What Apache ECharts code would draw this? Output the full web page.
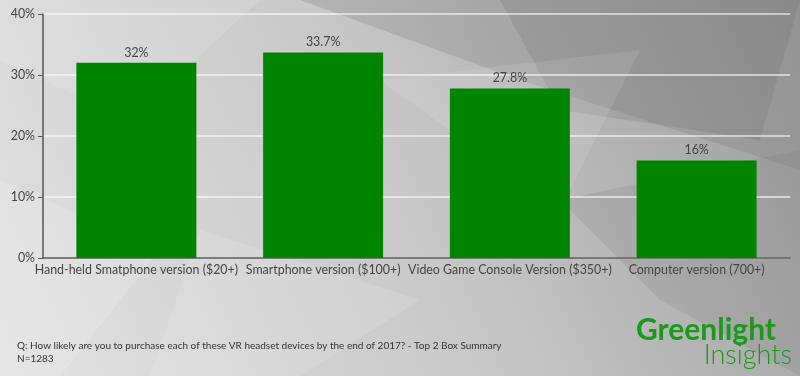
<!DOCTYPE html>
<html>
<head>
<meta charset="utf-8">
<script src="https://cdn.jsdelivr.net/npm/echarts@6/dist/echarts.min.js"></script>
<style>
  html, body { margin: 0; padding: 0; }
  #chart { width: 800px; height: 376px; }
</style>
</head>
<body>
<div id="chart"></div>
<script>
// data
const categories = [
  'Hand-held Smatphone version ($20+)',
  'Smartphone version ($100+)',
  'Video Game Console Version ($350+)',
  'Computer version (700+)'
];
const values = [32, 33.7, 27.8, 16];
const valueLabels = ['32%', '33.7%', '27.8%', '16%'];
const yTicks = [0, 10, 20, 30, 40];

const footnote = 'Q: How likely are you to purchase each of these VR headset devices by the end of 2017? - Top 2 Box Summary\nN=1283';

const chart = echarts.init(document.getElementById('chart'));

// decorative low-poly shards for the background
const shards = [
  { pts: [[300, 0], [800, 0], [800, 170], [520, 80]], c: 'rgba(120,120,120,0.25)' },
  { pts: [[500, 0], [800, 0], [760, 140], [560, 110]], c: 'rgba(100,100,100,0.18)' },
  { pts: [[0, 0], [260, 0], [130, 120], [0, 60]], c: 'rgba(255,255,255,0.12)' },
  { pts: [[380, 80], [640, 50], [560, 210]], c: 'rgba(255,255,255,0.10)' },
  { pts: [[0, 180], [160, 250], [60, 376], [0, 376]], c: 'rgba(255,255,255,0.15)' },
  { pts: [[560, 200], [800, 150], [800, 376], [660, 300]], c: 'rgba(110,110,110,0.15)' },
  { pts: [[200, 230], [420, 300], [300, 376], [150, 376]], c: 'rgba(255,255,255,0.12)' }
];

const option = {
  animation: false,
  backgroundColor: {
    type: 'linear', x: 0, y: 1, x2: 1, y2: 0,
    colorStops: [
      { offset: 0, color: '#e2e2e2' },
      { offset: 0.5, color: '#c8c8c8' },
      { offset: 1, color: '#9c9c9c' }
    ]
  },
  textStyle: { fontFamily: 'Lato, "Open Sans", sans-serif' },
  grid: { left: 43, right: 10, top: 14, bottom: 118, containLabel: false },
  graphic: [
    ...shards.map(s => ({
      type: 'polygon', z: -10, silent: true,
      shape: { points: s.pts },
      style: { fill: s.c }
    })),
    {
      type: 'text', left: 17, top: 339,
      style: {
        text: footnote, fill: '#333', font: '10px Lato, sans-serif', lineHeight: 13
      }
    },
    {
      type: 'text', right: 24, top: 315,
      style: {
        text: 'Greenlight', fill: '#1a9a1a', font: 'bold 30px Lato, sans-serif'
      }
    },
    {
      type: 'text', right: 8, top: 342,
      style: {
        text: 'Insights', fill: '#1a9a1a', font: '300 27px Lato, sans-serif'
      }
    }
  ],
  xAxis: {
    type: 'category',
    data: categories,
    axisLine: { lineStyle: { color: '#555', width: 1.5 } },
    axisTick: { alignWithLabel: true, length: 5, lineStyle: { color: '#555' } },
    axisLabel: { color: '#444', fontSize: 12.4, margin: 6, interval: 0 }
  },
  yAxis: {
    type: 'value',
    min: 0, max: 40, interval: 10,
    axisLine: { show: true, lineStyle: { color: '#555', width: 1.5 } },
    axisTick: { show: true, length: 5, lineStyle: { color: '#555' } },
    axisLabel: {
      color: '#444', fontSize: 12.4, margin: 8,
      formatter: v => (yTicks.includes(v) ? v + '%' : '')
    },
    splitLine: { lineStyle: { color: 'rgba(255,255,255,0.75)', width: 1.5 } }
  },
  series: [{
    type: 'bar',
    data: values,
    barWidth: 120,
    itemStyle: { color: '#008500' },
    label: {
      show: true, position: 'top', distance: 4,
      color: '#444', fontSize: 12.4,
      formatter: p => valueLabels[p.dataIndex]
    }
  }]
};

chart.setOption(option);
</script>
</body>
</html>
